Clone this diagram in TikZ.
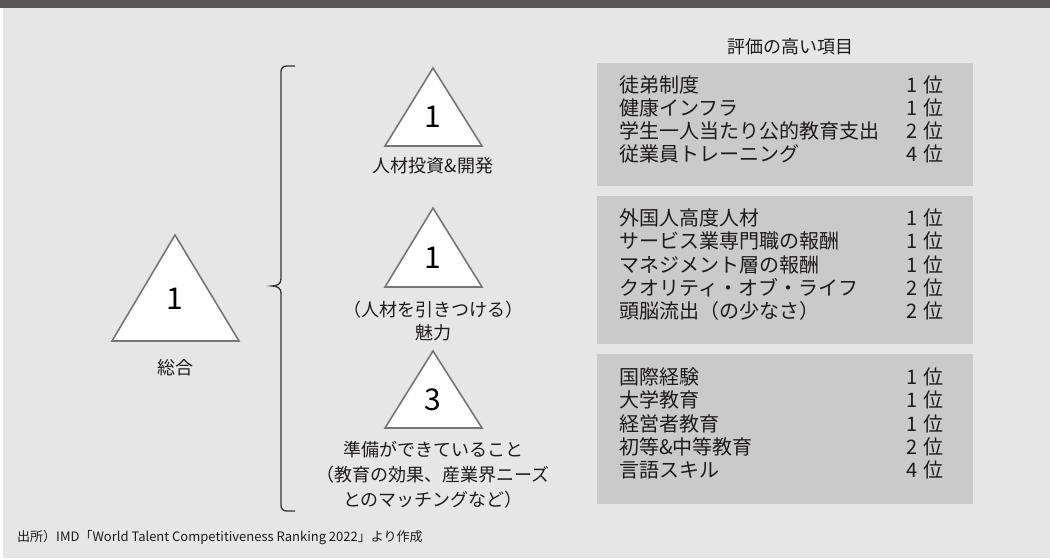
\documentclass[tikz,border=0pt]{standalone}
\usepackage{fontspec}
\setmainfont{Noto Sans CJK JP}
\definecolor{bg}{HTML}{E6E6E6}
\definecolor{bar}{HTML}{595757}
\definecolor{boxgray}{HTML}{C9CAC9}
\definecolor{txt}{HTML}{1F1B1C}
\definecolor{tristroke}{HTML}{767676}
\definecolor{bracec}{HTML}{333333}
\begin{document}
\begin{tikzpicture}[x=1pt,y=-1pt,
  item/.style={anchor=west,inner sep=0pt,text=txt,font=\fontsize{20}{20}\selectfont},
  rank/.style={anchor=east,inner sep=0pt,text=txt,font=\fontsize{20}{20}\selectfont},
  lbl/.style={inner sep=0pt,text=txt,font=\fontsize{18}{18}\selectfont},
  num/.style={inner sep=0pt,text=black,font=\fontsize{30}{30}\selectfont},
  tri/.style={draw=tristroke,fill=white,line width=1.6pt,line join=miter},
  panel/.style={fill=boxgray,draw=none},
  bracestyle/.style={draw=bracec,line width=1.3pt}]
\useasboundingbox (0,0) rectangle (1050,558);
\fill[bg] (0,0) rectangle (1050,558);
\fill[bar] (0,0) rectangle (1050,8);
\fill[white] (0,8) rectangle (3,558);

% big triangle
\path[tri] (175,235) -- (239,341) -- (112,341) -- cycle;
\node[num] (n0) at (175,299) {1};
\node[lbl] (l0) at (175,368) {総合};

% brace
\draw[bracestyle] (295,66) -- (287,66) .. controls (283,66) and (281,68) .. (281,72) -- (281,279)
  .. controls (281,284) and (277,286) .. (272,286)
  .. controls (277,286) and (281,288) .. (281,293) -- (281,505)
  .. controls (281,509) and (283,511) .. (287,511) -- (295,511);

% triangle 1
\path[tri] (433,68) -- (482,146) -- (385,146) -- cycle;
\node[num] (n1) at (433,117) {1};
\node[lbl] (l1) at (433,166) {人材投資\&開発};

% triangle 2
\path[tri] (433,208) -- (482,287) -- (385,287) -- cycle;
\node[num] (n2) at (433,258) {1};
\node[lbl] (l2a) at (433,310) {（人材を引きつける）};
\node[lbl] (l2b) at (433,333) {魅力};

% triangle 3
\path[tri] (433,351) -- (482,428) -- (385,428) -- cycle;
\node[num] (n3) at (433,400) {3};
\node[lbl] (l3a) at (433,450) {準備ができていること};
\node[lbl] (l3b) at (433,475) {（教育の効果、産業界ニーズ};
\node[lbl] (l3c) at (433,500) {とのマッチングなど）};

% title
\node[lbl] (title) at (790,47) {評価の高い項目};

% panels
\fill[panel] (597,63) rectangle (973,186);
\fill[panel] (597,196) rectangle (973,344);
\fill[panel] (597,354) rectangle (973,504);

\foreach \t/\r [count=\i] in {徒弟制度/1,健康インフラ/1,学生一人当たり公的教育支出/2,従業員トレーニング/4}{
  \node[item] (a\i) at (619,{85+23*(\i-1)}) {\t};
  \node[rank] (ar\i) at (944,{85+23*(\i-1)}) {\r\hspace{6pt}位};
}
\foreach \t/\r [count=\i] in {外国人高度人材/1,サービス業専門職の報酬/1,マネジメント層の報酬/1,クオリティ・オブ・ライフ/2,頭脳流出（の少なさ）/2}{
  \node[item] (b\i) at (619,{218+23.3*(\i-1)}) {\t};
  \node[rank] (br\i) at (944,{218+23.3*(\i-1)}) {\r\hspace{6pt}位};
}
\foreach \t/\r [count=\i] in {国際経験/1,大学教育/1,経営者教育/1,初等\&中等教育/2,言語スキル/4}{
  \node[item] (c\i) at (619,{377+23.3*(\i-1)}) {\t};
  \node[rank] (cr\i) at (944,{377+23.3*(\i-1)}) {\r\hspace{6pt}位};
}

% footnote
\node[anchor=west,inner sep=0pt,text=txt,font=\fontsize{13}{13}\selectfont] (src) at (17,538)
  {出所）IMD「World Talent Competitiveness Ranking 2022」より作成};
\end{tikzpicture}
\end{document}
